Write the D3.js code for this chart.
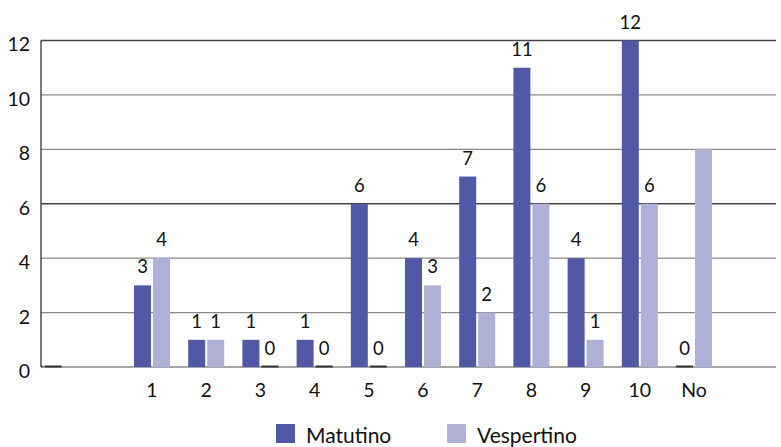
<!DOCTYPE html>
<html><head><meta charset="utf-8">
<script src="https://cdn.jsdelivr.net/npm/d3@7"></script>
<style>
html,body{margin:0;padding:0;background:#fff;}
svg{display:block;font-family:"Lato","Open Sans",sans-serif;}
</style></head>
<body>
<svg id="c" width="781" height="447"></svg>
<script>
// Data
const categories = ["_a", "_b", "1", "2", "3", "4", "5", "6", "7", "8", "9", "10", "No", "_c"];
const categoryLabels = ["", "", "1", "2", "3", "4", "5", "6", "7", "8", "9", "10", "No", ""];
const matutino   = [0, null, 3, 1, 1, 1, 6, 4, 7, 11, 4, 12, 0, null];
const vespertino = [0, null, 4, 1, 0, 0, 0, 3, 2, 6, 1, 6, 8, null];
const showMatLabel = [false, false, true, true, true, true, true, true, true, true, true, true, true, false];
const showVesLabel = [false, false, true, true, true, true, true, true, true, true, true, true, false, false];
const yTicks = [0, 2, 4, 6, 8, 10, 12];
const seriesNames = ["Matutino", "Vespertino"];
const seriesColors = ["#5159a6", "#afb0d6"];

const svg = d3.select("#c");
const plotLeft = 41, plotRight = 776, plotTop = 40.5, plotBottom = 367;

const x = d3.scaleBand().domain(categories).range([16.5, 775.3]).padding(0);
const y = d3.scaleLinear().domain([0, 12]).range([plotBottom, plotTop]);

svg.append("defs").append("clipPath").attr("id", "plotclip")
  .append("rect").attr("x", plotLeft).attr("y", 0).attr("width", plotRight - plotLeft).attr("height", plotBottom + 2);

// gridlines
svg.append("g").selectAll("line").data(yTicks.filter(d => d > 0)).join("line")
  .attr("x1", plotLeft).attr("x2", plotRight)
  .attr("y1", d => y(d)).attr("y2", d => y(d))
  .attr("stroke", d => (d === 12 || d === 6) ? "#444" : "#888").attr("stroke-width", 1.3);

// baseline
svg.append("line").attr("x1", plotLeft).attr("x2", plotRight)
  .attr("y1", y(0)).attr("y2", y(0)).attr("stroke", "#888").attr("stroke-width", 1.5);

// y axis line
svg.append("line").attr("x1", plotLeft).attr("x2", plotLeft)
  .attr("y1", plotTop).attr("y2", y(0)).attr("stroke", "#333").attr("stroke-width", 1.3);

// y tick labels
svg.append("g").selectAll("text").data(yTicks).join("text")
  .attr("x", 30).attr("y", d => y(d) + 6)
  .attr("text-anchor", "end").attr("dominant-baseline", "middle")
  .attr("font-size", 19.5).attr("fill", "#111").text(d => d);

// bars
const bw = 17;
const bars = svg.append("g").attr("clip-path", "url(#plotclip)");
const series = [matutino, vespertino];
const offsets = [-18, 1];
series.forEach((vals, si) => {
  const g = bars.append("g");
  categories.forEach((c, i) => {
    const v = vals[i];
    if (v === null) return;
    const cx = x(c) + x.bandwidth() / 2 + offsets[si];
    if (v === 0) {
      g.append("line").attr("x1", cx).attr("x2", cx + bw)
        .attr("y1", y(0) - 0.5).attr("y2", y(0) - 0.5)
        .attr("stroke", "#333").attr("stroke-width", 2);
    } else {
      g.append("rect").attr("x", cx).attr("y", y(v)).attr("width", bw)
        .attr("height", y(0) - y(v)).attr("fill", seriesColors[si]);
    }
  });
});

// value labels
const showLabels = [showMatLabel, showVesLabel];
series.forEach((vals, si) => {
  categories.forEach((c, i) => {
    const v = vals[i];
    if (v === null || !showLabels[si][i]) return;
    const cx = x(c) + x.bandwidth() / 2 + offsets[si] + bw / 2;
    svg.append("text").attr("x", cx).attr("y", y(v) - 12)
      .attr("text-anchor", "middle").attr("font-size", 18.5).attr("fill", "#111").text(v);
  });
});

// x labels
svg.append("g").selectAll("text").data(categories).join("text")
  .attr("x", d => x(d) + x.bandwidth() / 2).attr("y", 397)
  .attr("text-anchor", "middle").attr("font-size", 19.5).attr("fill", "#111")
  .text((d, i) => categoryLabels[i]);

// legend
const legendX = [276, 447];
seriesNames.forEach((n, i) => {
  svg.append("rect").attr("x", legendX[i]).attr("y", 424).attr("width", 19).attr("height", 19).attr("fill", seriesColors[i]);
  svg.append("text").attr("x", legendX[i] + 30).attr("y", 443).attr("font-size", 21).attr("fill", "#111").text(n);
});
</script>
</body></html>
